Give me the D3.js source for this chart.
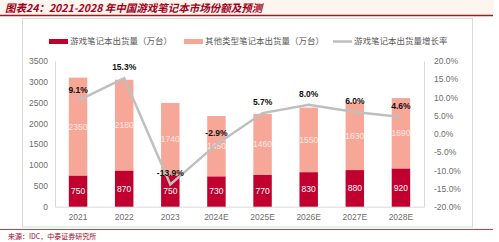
<!DOCTYPE html>
<html>
<head>
<meta charset="utf-8">
<script src="https://cdn.jsdelivr.net/npm/d3@7"></script>
<style>
  body { margin: 0; background: #fff; }
  text { font-family: "Noto Sans CJK SC", "DejaVu Sans", sans-serif; }
</style>
</head>
<body>
<div id="chart"></div>
<script>
const years = ["2021", "2022", "2023", "2024E", "2025E", "2026E", "2027E", "2028E"];
const gaming = [750, 870, 750, 730, 770, 830, 880, 920];
const others = [2350, 2180, 1740, 1450, 1460, 1550, 1630, 1690];
const growth = [9.1, 15.3, -13.9, -2.9, 5.7, 8.0, 6.0, 4.6];
const leftTicks = [0, 500, 1000, 1500, 2000, 2500, 3000, 3500];
const rightTicks = [-20, -15, -10, -5, 0, 5, 10, 15, 20];
const legendNames = ["游戏笔记本出货量（万台）", "其他类型笔记本出货量（万台）", "游戏笔记本出货量增长率"];

const W = 499, H = 242;
const darkRed = "#c0002f", salmon = "#f7a797", lineGray = "#bfbfbf", axisText = "#6e6e6e";

const svg = d3.select("#chart").append("svg")
    .attr("width", W)
    .attr("height", H);

// title band
svg.append("rect").attr("x", 0).attr("y", 0).attr("width", 494).attr("height", 15).attr("fill", "#fdf5ee");
svg.append("text")
    .attr("x", 5).attr("y", 12)
    .attr("fill", "#a3001e")
    .attr("font-size", 10.5)
    .attr("font-weight", "bold")
    .attr("font-style", "italic")
    .text("图表24：2021-2028 年中国游戏笔记本市场份额及预测");
svg.append("line").attr("x1", 0).attr("x2", 493).attr("y1", 15.5).attr("y2", 15.5)
    .attr("stroke", "#9e1b1b").attr("stroke-width", 1.5);

// chart frame
svg.append("rect").attr("x", 22.5).attr("y", 18.5).attr("width", 450).attr("height", 208.5)
    .attr("fill", "none").attr("stroke", "#d9d9d9").attr("stroke-width", 1);

// source line
svg.append("line").attr("x1", 0).attr("x2", 493).attr("y1", 229.5).attr("y2", 229.5)
    .attr("stroke", "#b5474b").attr("stroke-width", 1);
svg.append("text").attr("x", 8).attr("y", 238.5)
    .attr("font-size", 7).attr("fill", "#a3001e")
    .text("来源：IDC，中泰证券研究所");

// scales
const x = d3.scaleBand().domain(years).range([55, 424]).paddingInner(0.6).paddingOuter(0.3);
const y = d3.scaleLinear().domain([0, 3500]).range([206.7, 61]);
const y2 = d3.scaleLinear().domain([-20, 20]).range([206.7, 61]);

// axes
const gl = svg.append("g").attr("transform", "translate(55,0)")
    .call(d3.axisLeft(y).tickValues(leftTicks).tickSize(0).tickPadding(7).tickFormat(d3.format("d")));
gl.select(".domain").attr("stroke", "#d9d9d9");
gl.selectAll("text").attr("font-size", 8.5).attr("fill", axisText).style("font-family", "Liberation Sans, Arial, sans-serif");

const gr = svg.append("g").attr("transform", "translate(424,0)")
    .call(d3.axisRight(y2).tickValues(rightTicks).tickSize(0).tickPadding(10)
        .tickFormat(d => d.toFixed(1) + "%"));
gr.select(".domain").attr("stroke", "#d9d9d9");
gr.selectAll("text").attr("font-size", 8.5).attr("fill", axisText).style("font-family", "Liberation Sans, Arial, sans-serif");

const gb = svg.append("g").attr("transform", "translate(0,206.7)")
    .call(d3.axisBottom(x).tickSize(0).tickPadding(7));
gb.select(".domain").attr("stroke", "#d9d9d9");
gb.selectAll("text").attr("font-size", 8.5).attr("fill", axisText).style("font-family", "Liberation Sans, Arial, sans-serif");

// stacked bars
svg.selectAll(".bar-g").data(years).join("rect")
    .attr("class", "bar-g")
    .attr("x", d => x(d)).attr("width", x.bandwidth())
    .attr("y", (d, i) => y(gaming[i]))
    .attr("height", (d, i) => y(0) - y(gaming[i]))
    .attr("fill", darkRed);

svg.selectAll(".bar-o").data(years).join("rect")
    .attr("class", "bar-o")
    .attr("x", d => x(d)).attr("width", x.bandwidth())
    .attr("y", (d, i) => y(gaming[i] + others[i]))
    .attr("height", (d, i) => y(gaming[i]) - y(gaming[i] + others[i]))
    .attr("fill", salmon);

// bar labels
svg.selectAll(".lab-g").data(years).join("text")
    .attr("class", "lab-g")
    .attr("x", d => x(d) + x.bandwidth() / 2)
    .attr("y", (d, i) => y(gaming[i] / 2))
    .attr("dy", "0.35em")
    .attr("text-anchor", "middle")
    .attr("font-size", 8.5).attr("fill", "#fff")
    .style("font-family", "Liberation Sans, Arial, sans-serif")
    .text((d, i) => gaming[i]);

svg.selectAll(".lab-o").data(years).join("text")
    .attr("class", "lab-o")
    .attr("x", d => x(d) + x.bandwidth() / 2)
    .attr("y", (d, i) => y(gaming[i] + others[i] / 2))
    .attr("dy", "0.35em")
    .attr("text-anchor", "middle")
    .attr("font-size", 8.5).attr("fill", "#fde8e2")
    .style("font-family", "Liberation Sans, Arial, sans-serif")
    .text((d, i) => others[i]);

// growth line
const line = d3.line()
    .x((d, i) => x(years[i]) + x.bandwidth() / 2)
    .y(d => y2(d));
svg.append("path").datum(growth)
    .attr("d", line)
    .attr("fill", "none")
    .attr("stroke", lineGray)
    .attr("stroke-width", 2.5);

svg.selectAll(".lab-p").data(growth).join("text")
    .attr("class", "lab-p")
    .attr("x", (d, i) => x(years[i]) + x.bandwidth() / 2)
    .attr("y", d => y2(d) - 11)
    .attr("dy", "0.35em")
    .attr("text-anchor", "middle")
    .attr("font-size", 8.5).attr("font-weight", "bold").attr("fill", "#111")
    .style("font-family", "Liberation Sans, Arial, sans-serif")
    .text(d => d.toFixed(1) + "%");

// legend
const leg = svg.append("g").attr("font-size", 8.5);
const legX = [49, 184, 333];
leg.append("rect").attr("x", legX[0]).attr("y", 39).attr("width", 19).attr("height", 5).attr("fill", darkRed);
leg.append("rect").attr("x", legX[1]).attr("y", 39).attr("width", 19).attr("height", 5).attr("fill", salmon);
leg.append("line").attr("x1", legX[2]).attr("x2", legX[2] + 19).attr("y1", 41.5).attr("y2", 41.5)
    .attr("stroke", lineGray).attr("stroke-width", 2.5);
legendNames.forEach((n, i) => {
    leg.append("text").attr("x", legX[i] + 21).attr("y", 41.5).attr("dy", "0.35em")
        .attr("fill", "#595959").text(n);
});
</script>
</body>
</html>
